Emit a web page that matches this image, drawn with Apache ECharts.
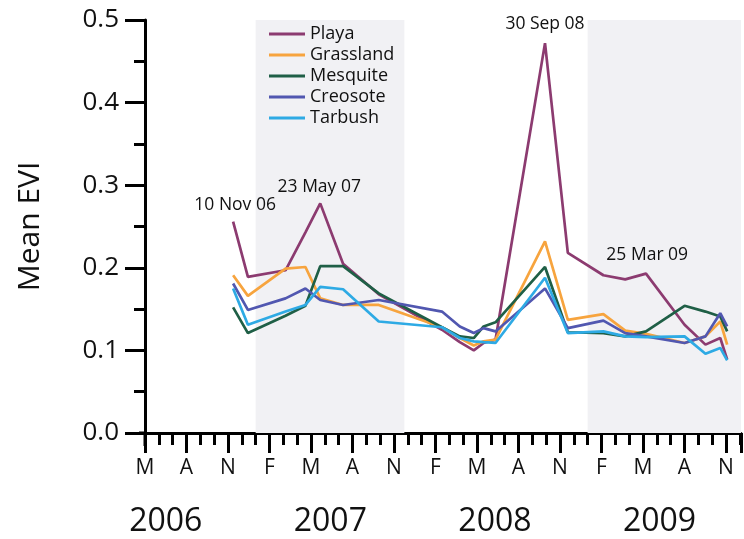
<!DOCTYPE html>
<html><head><meta charset="utf-8">
<script src="https://cdn.jsdelivr.net/npm/echarts@6/dist/echarts.min.js"></script>
<style>html,body{margin:0;padding:0;background:#fff}#c{width:744px;height:539px}</style>
</head><body><div id="c"></div>
<script>
// x values: months elapsed since 1 May 2006
const monthLetters = ['M', 'A', 'N', 'F'];
const yearLabels = ['2006', '2007', '2008', '2009'];
const yearLabelPos = [1.5, 13.4, 25.3, 37.2];
const shadedBands = [[8, 18.75], [32, 44]];
const dates = [6.37, 7.44, 10.16, 11.60, 12.67, 14.32, 16.90, 21.47, 22.76, 23.77, 24.48, 25.34, 28.92, 30.57, 33.14, 34.72, 36.22, 39.01, 40.52, 41.59, 42.09];
const playa     = [0.256, 0.189, 0.197, 0.243, 0.278, 0.205, 0.168, 0.125, 0.110, 0.100, 0.109, 0.113, 0.472, 0.218, 0.191, 0.186, 0.193, 0.131, 0.107, 0.115, 0.089];
const grassland = [0.191, 0.166, 0.199, 0.201, 0.163, 0.155, 0.155, 0.128, 0.115, 0.106, 0.111, 0.113, 0.232, 0.137, 0.144, 0.124, 0.120, 0.109, 0.117, 0.135, 0.107];
const mesquite  = [0.152, 0.121, 0.142, 0.154, 0.202, 0.202, 0.169, 0.128, 0.117, 0.115, 0.129, 0.134, 0.201, 0.122, 0.121, 0.117, 0.123, 0.154, 0.147, 0.141, 0.123];
const creosote  = [0.181, 0.149, 0.163, 0.175, 0.161, 0.155, 0.161, 0.147, 0.129, 0.121, 0.127, 0.123, 0.175, 0.127, 0.136, 0.121, 0.117, 0.109, 0.117, 0.145, 0.129];
const tarbush   = [0.175, 0.131, 0.147, 0.155, 0.177, 0.174, 0.135, 0.128, 0.115, 0.111, 0.110, 0.109, 0.188, 0.121, 0.123, 0.117, 0.116, 0.117, 0.096, 0.103, 0.088];
const seriesNames = ['Playa', 'Grassland', 'Mesquite', 'Creosote', 'Tarbush'];
const seriesValues = [playa, grassland, mesquite, creosote, tarbush];
const seriesColors = ['#8c3b70', '#f7a43e', '#1f5f46', '#5157b0', '#2eaae4'];
const annotations = [
  { text: '10 Nov 06', index: 0, dx: 2, dy: -17 },
  { text: '23 May 07', index: 4, dx: -1, dy: -16 },
  { text: '30 Sep 08', index: 12, dx: 0, dy: -19 },
  { text: '25 Mar 09', index: 15, dx: 22, dy: -24 }
];

const FONT = 'Open Sans';
const chart = echarts.init(document.getElementById('c'), null, { renderer: 'canvas' });

const series = [{
  type: 'line', name: 'bands', data: [], silent: true, z: 1,
  markArea: {
    silent: true,
    itemStyle: { color: '#f1f1f4' },
    data: shadedBands.map(b => [{ xAxis: b[0] }, { xAxis: b[1] }])
  }
}];
seriesNames.forEach((n, i) => {
  series.push({
    type: 'line', name: n, z: 3,
    data: dates.map((d, k) => [d, seriesValues[i][k]]),
    showSymbol: false, symbol: 'none',
    lineStyle: { color: seriesColors[i], width: 2.7 },
    itemStyle: { color: seriesColors[i] }
  });
});

chart.setOption({
  animation: false,
  backgroundColor: '#ffffff',
  grid: { left: 145, right: -3, top: 20, bottom: 106, containLabel: false },
  legend: {
    data: seriesNames, orient: 'vertical', left: 269, top: 25,
    icon: 'rect', itemWidth: 36, itemHeight: 3, itemGap: 3, padding: 0,
    textStyle: { fontFamily: FONT, fontSize: 18, lineHeight: 17, color: '#111' }
  },
  xAxis: {
    type: 'value', min: 0, max: 43.09, interval: 3,
    axisLine: { show: true, lineStyle: { color: '#000', width: 3 } },
    axisTick: { show: true, inside: false, length: 20, lineStyle: { color: '#000', width: 3 } },
    minorTick: { show: true, splitNumber: 3, length: 12, lineStyle: { color: '#000', width: 3 } },
    splitLine: { show: false }, minorSplitLine: { show: false },
    axisLabel: {
      fontFamily: FONT, fontSize: 21, color: '#111', margin: 25,
      formatter: v => {
        const q = v / 3;
        if (Math.abs(q - Math.round(q)) < 1e-6 && v <= 42.001) return monthLetters[Math.round(q) % 4];
        return '';
      }
    }
  },
  yAxis: {
    type: 'value', min: 0, max: 0.5, interval: 0.1,
    name: 'Mean EVI', nameLocation: 'middle', nameGap: 100,
    nameTextStyle: { fontFamily: FONT, fontSize: 30, color: '#111' },
    axisLine: { show: true, lineStyle: { color: '#000', width: 3 } },
    axisTick: { show: true, inside: false, length: 20, lineStyle: { color: '#000', width: 3 } },
    minorTick: { show: true, splitNumber: 2, length: 11, lineStyle: { color: '#000', width: 3 } },
    splitLine: { show: false }, minorSplitLine: { show: false },
    axisLabel: { fontFamily: FONT, fontSize: 26, color: '#111', margin: 26, formatter: v => v.toFixed(1) }
  },
  series: series
});

const graphics = [];
yearLabels.forEach((t, i) => {
  const x = chart.convertToPixel({ xAxisIndex: 0 }, yearLabelPos[i]);
  graphics.push({ type: 'text', x: x, y: 522, z: 10,
    style: { text: t, fontFamily: FONT, fontSize: 32, fill: '#111', align: 'center', verticalAlign: 'middle' } });
});
annotations.forEach(a => {
  const p = chart.convertToPixel({ gridIndex: 0 }, [dates[a.index], playa[a.index]]);
  graphics.push({ type: 'text', x: p[0] + a.dx, y: p[1] + a.dy, z: 10,
    style: { text: a.text, fontFamily: FONT, fontSize: 17.5, fill: '#111', align: 'center', verticalAlign: 'middle' } });
});
const o = chart.convertToPixel({ gridIndex: 0 }, [0, 0]);
graphics.push({ type: 'line', z: 10, shape: { x1: o[0], y1: o[1], x2: o[0], y2: o[1] + 13 }, style: { stroke: '#000', lineWidth: 3 } });
graphics.push({ type: 'line', z: 10, shape: { x1: o[0] - 6, y1: o[1], x2: o[0], y2: o[1] }, style: { stroke: '#000', lineWidth: 3 } });
chart.setOption({ graphic: graphics });
</script>
</body></html>
